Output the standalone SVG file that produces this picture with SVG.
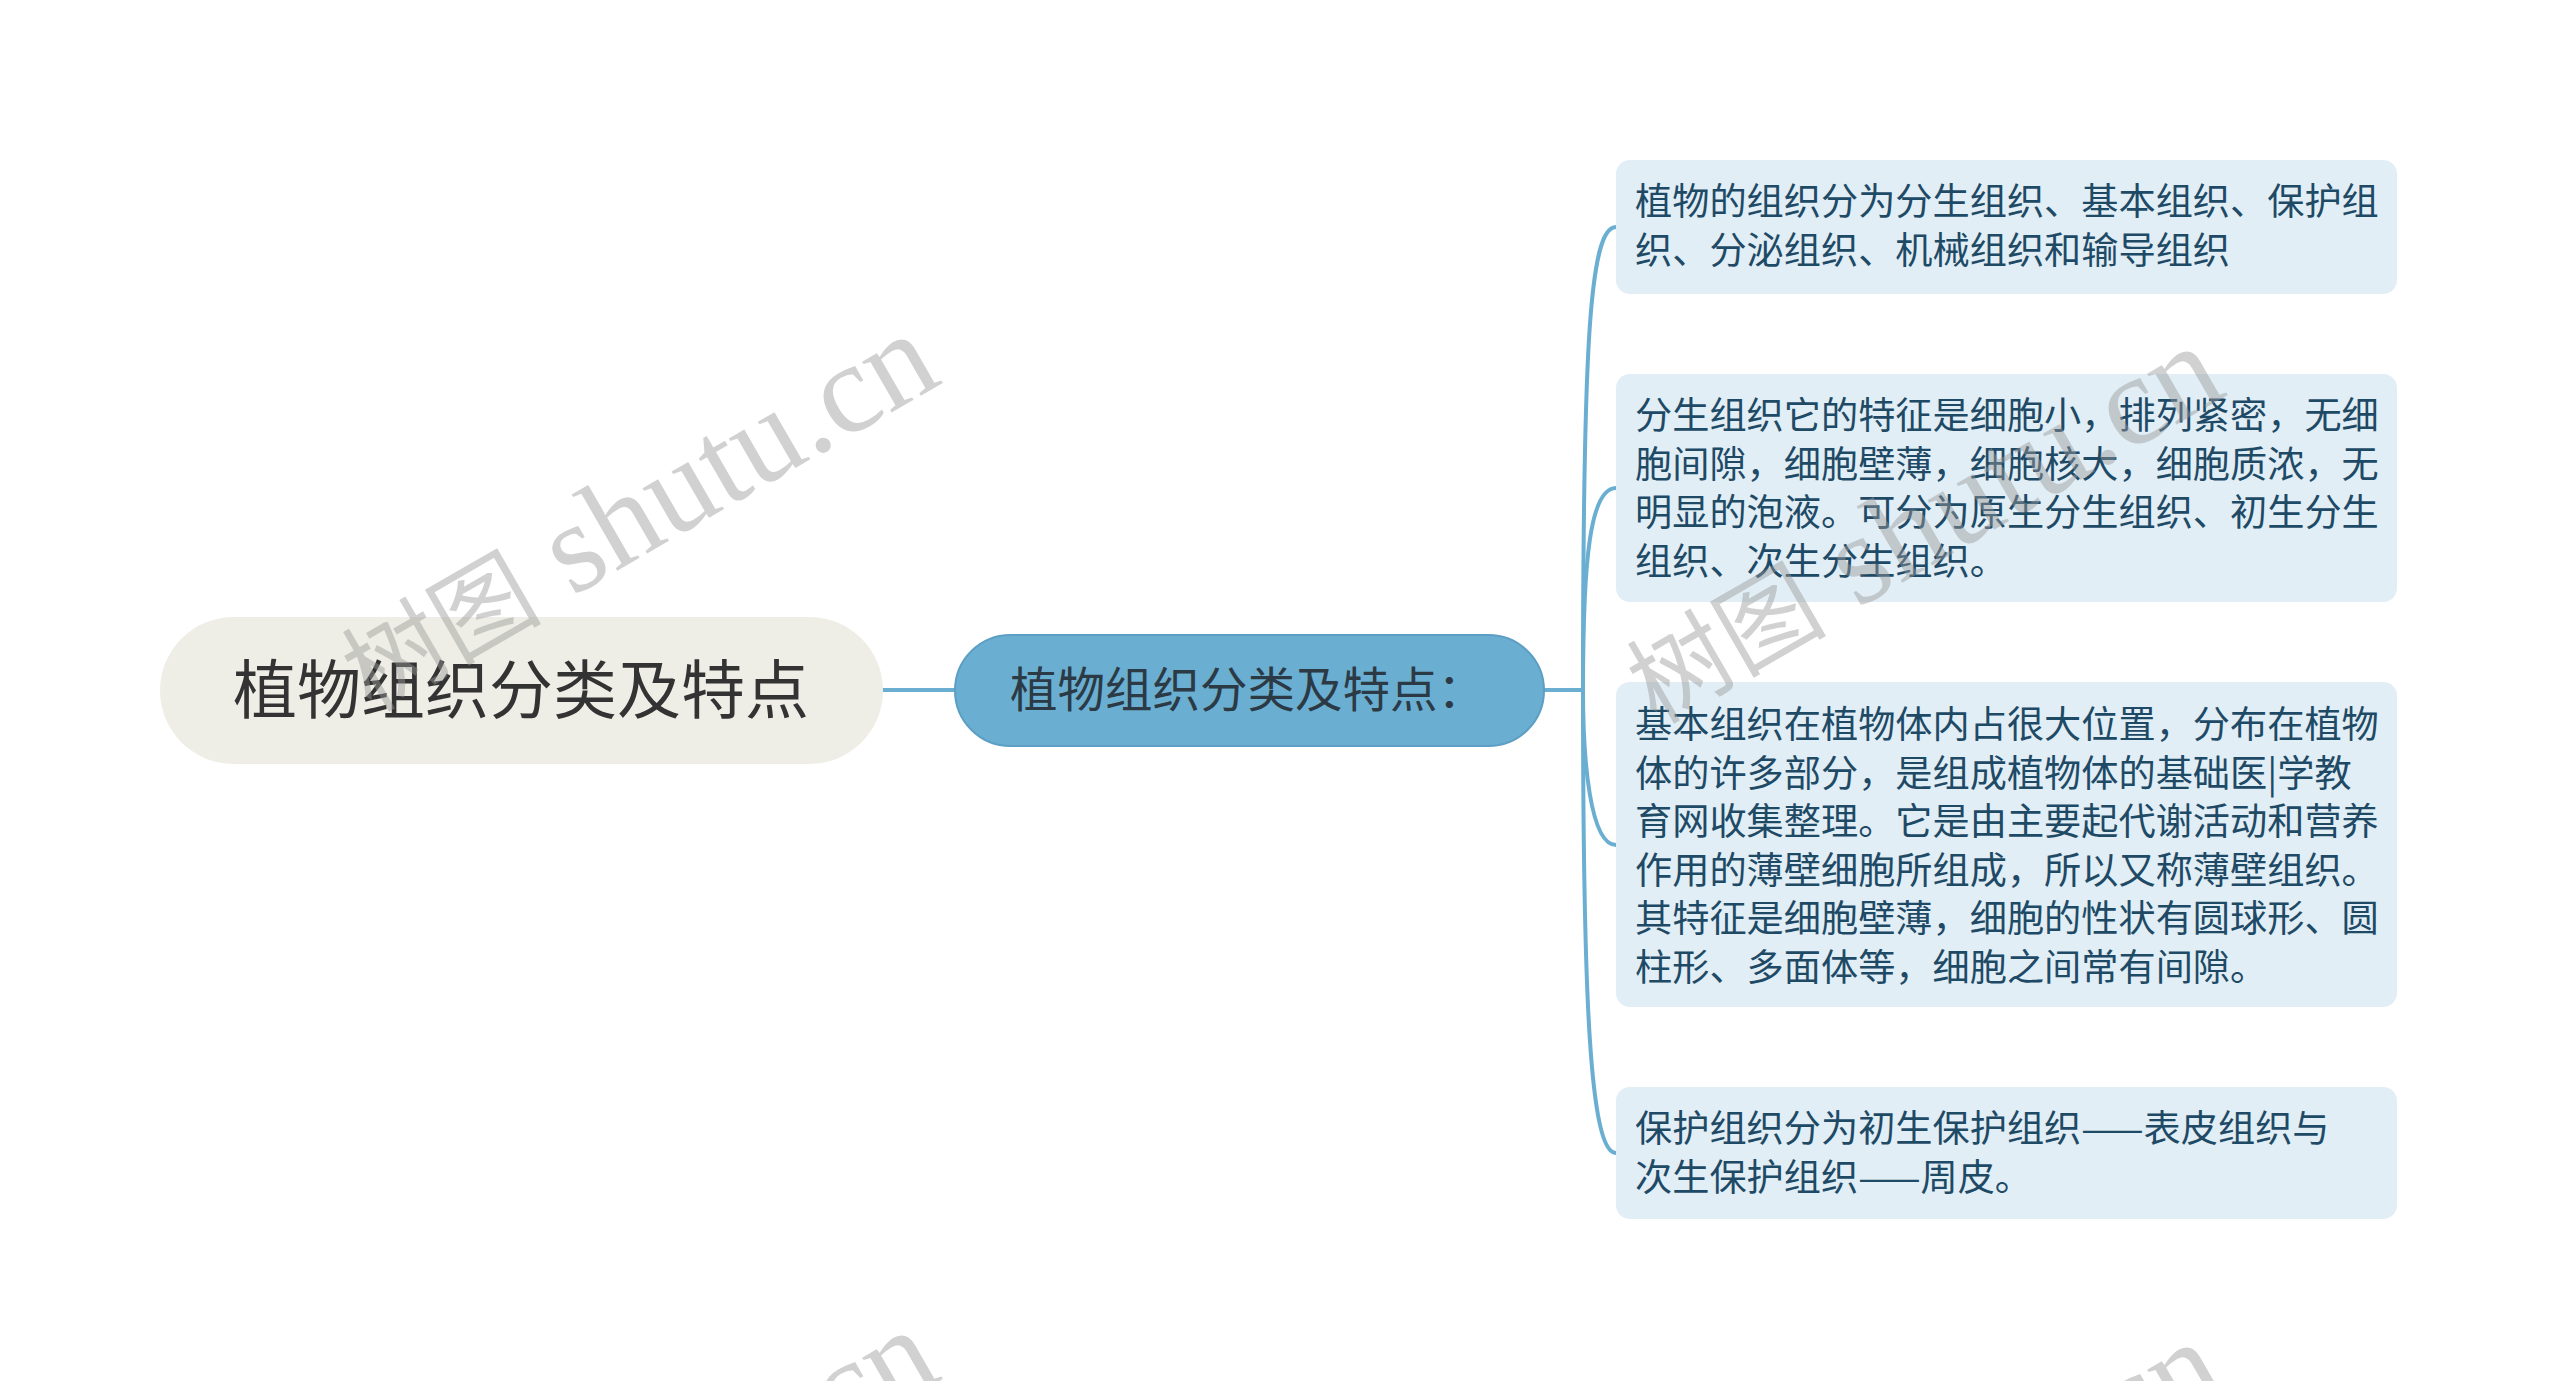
<svg xmlns="http://www.w3.org/2000/svg" width="2560" height="1381" viewBox="0 0 2560 1381">
<style>
.cjk{font-family:"Noto Sans CJK SC","Noto Sans",sans-serif}
.root-t{font-size:64px;fill:#333333}
.sub-t{font-size:47.5px;fill:#2b3a44}
.leaf{fill:#e1eef6}
.leaf-t{font-size:37.2px;fill:#1f4a66}
.conn{fill:none;stroke:#6aaed1;stroke-width:4;stroke-linecap:round}
.wm{font-family:"Liberation Serif","Noto Sans CJK SC",serif;font-size:128px;fill:#999999;fill-opacity:0.45}
.wm-c{font-size:100px}
</style>
<rect width="2560" height="1381" fill="#ffffff"/>
<g id="connectors">
<path class="conn" d="M883 690 L955 690"/>
<path class="conn" d="M1544 690 L1583 690"/>
<path class="conn" d="M1583 690 C1583 340 1590 227 1616 227"/>
<path class="conn" d="M1583 690 C1583 560 1590 488 1616 488"/>
<path class="conn" d="M1583 690 C1583 760 1590 845 1616 845"/>
<path class="conn" d="M1583 690 C1583 1000 1590 1153 1616 1153"/>
</g>
<g id="root">
<rect x="160" y="617" width="723" height="147" rx="73.5" fill="#efeee6"/>
<text class="cjk root-t" x="521" y="713" text-anchor="middle">植物组织分类及特点</text>
</g>
<g id="sub">
<rect x="955" y="635" width="589" height="111" rx="55.5" fill="#6aaed1" stroke="#5d9fc4" stroke-width="2"/>
<text class="cjk sub-t" x="1010" y="707">植物组织分类及特点：</text>
</g>
<g id="leaf1">
<rect class="leaf" x="1616" y="160" width="781" height="134" rx="14"/>
<text class="cjk leaf-t"><tspan x="1635" y="215">植物的组织分为分生组织、基本组织、保护组</tspan><tspan x="1635" y="263.5">织、分泌组织、机械组织和输导组织</tspan></text>
</g>
<g id="leaf2">
<rect class="leaf" x="1616" y="374" width="781" height="228" rx="14"/>
<text class="cjk leaf-t"><tspan x="1635" y="429">分生组织它的特征是细胞小，排列紧密，无细</tspan><tspan x="1635" y="477.5">胞间隙，细胞壁薄，细胞核大，细胞质浓，无</tspan><tspan x="1635" y="526">明显的泡液。可分为原生分生组织、初生分生</tspan><tspan x="1635" y="574.5">组织、次生分生组织。</tspan></text>
</g>
<g id="leaf3">
<rect class="leaf" x="1616" y="682" width="781" height="325" rx="14"/>
<text class="cjk leaf-t"><tspan x="1635" y="738">基本组织在植物体内占很大位置，分布在植物</tspan><tspan x="1635" y="786.5">体的许多部分，是组成植物体的基础医|学教</tspan><tspan x="1635" y="835">育网收集整理。它是由主要起代谢活动和营养</tspan><tspan x="1635" y="883.5">作用的薄壁细胞所组成，所以又称薄壁组织。</tspan><tspan x="1635" y="932">其特征是细胞壁薄，细胞的性状有圆球形、圆</tspan><tspan x="1635" y="980.5">柱形、多面体等，细胞之间常有间隙。</tspan></text>
</g>
<g id="leaf4">
<rect class="leaf" x="1616" y="1087" width="781" height="132" rx="14"/>
<text class="cjk leaf-t"><tspan x="1635" y="1142">保护组织分为初生保护组织——表皮组织与</tspan><tspan x="1635" y="1190.5">次生保护组织——周皮。</tspan></text>
</g>
<g id="watermarks">
<text class="wm" transform="translate(371 713) rotate(-30)"><tspan class="wm-c">树图</tspan> shutu.cn</text>
<text class="wm" transform="translate(1656 725) rotate(-30)"><tspan class="wm-c">树图</tspan> shutu.cn</text>
<text class="wm" transform="translate(371 1709) rotate(-30)"><tspan class="wm-c">树图</tspan> shutu.cn</text>
<text class="wm" transform="translate(1656 1721) rotate(-30)"><tspan class="wm-c">树图</tspan> shutu.cn</text>
</g>
</svg>
